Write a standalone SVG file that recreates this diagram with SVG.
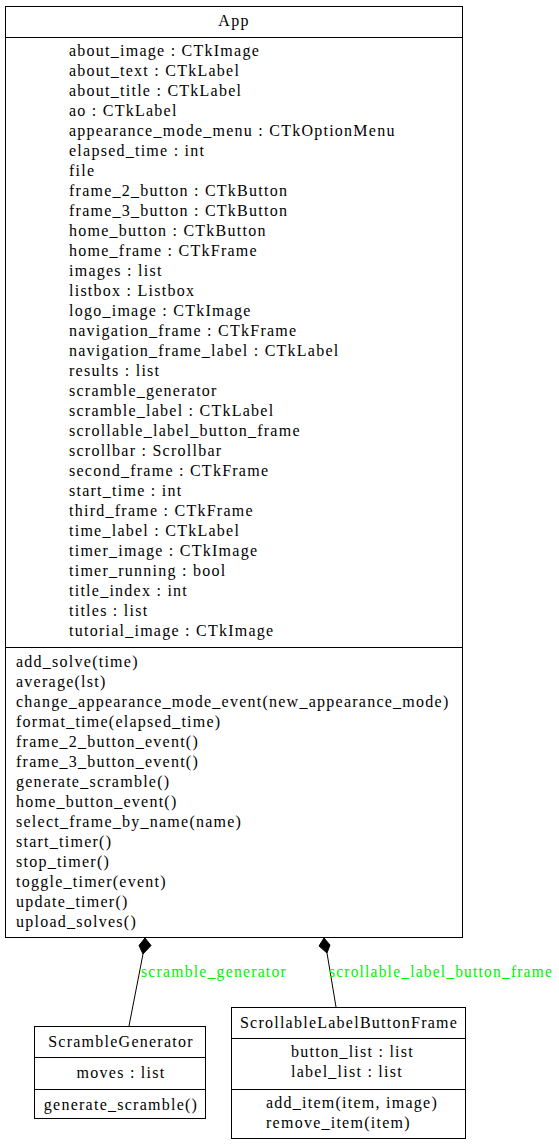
<svg xmlns="http://www.w3.org/2000/svg" width="559" height="1145" viewBox="0 0 559 1145">
<style>
  .box { fill: #ffffff; stroke: #000000; stroke-width: 1; }
  .sep { stroke: #000000; stroke-width: 1; }
  text { font-family: "Liberation Serif", "Times New Roman", serif; font-size: 16px; letter-spacing: 1.25px; fill: #000000; }
  .c { text-anchor: middle; }
  .edge { stroke: #000000; stroke-width: 1; fill: none; }
  .elabel { fill: #00f000; }
</style>
<rect width="559" height="1145" fill="#ffffff"/>

<g id="App">
  <rect class="box" x="5.5" y="6.5" width="457" height="931"/>
  <line class="sep" x1="5.5" y1="37.5" x2="462.5" y2="37.5"/>
  <line class="sep" x1="5.5" y1="647.5" x2="462.5" y2="647.5"/>
  <text class="c" x="234" y="26">App</text>
  <g>
    <text x="69" y="56">about_image : CTkImage</text>
    <text x="69" y="76">about_text : CTkLabel</text>
    <text x="69" y="96">about_title : CTkLabel</text>
    <text x="69" y="116">ao : CTkLabel</text>
    <text x="69" y="136">appearance_mode_menu : CTkOptionMenu</text>
    <text x="69" y="156">elapsed_time : int</text>
    <text x="69" y="176">file</text>
    <text x="69" y="196">frame_2_button : CTkButton</text>
    <text x="69" y="216">frame_3_button : CTkButton</text>
    <text x="69" y="236">home_button : CTkButton</text>
    <text x="69" y="256">home_frame : CTkFrame</text>
    <text x="69" y="276">images : list</text>
    <text x="69" y="296">listbox : Listbox</text>
    <text x="69" y="316">logo_image : CTkImage</text>
    <text x="69" y="336">navigation_frame : CTkFrame</text>
    <text x="69" y="356">navigation_frame_label : CTkLabel</text>
    <text x="69" y="376">results : list</text>
    <text x="69" y="396">scramble_generator</text>
    <text x="69" y="416">scramble_label : CTkLabel</text>
    <text x="69" y="436">scrollable_label_button_frame</text>
    <text x="69" y="456">scrollbar : Scrollbar</text>
    <text x="69" y="476">second_frame : CTkFrame</text>
    <text x="69" y="496">start_time : int</text>
    <text x="69" y="516">third_frame : CTkFrame</text>
    <text x="69" y="536">time_label : CTkLabel</text>
    <text x="69" y="556">timer_image : CTkImage</text>
    <text x="69" y="576">timer_running : bool</text>
    <text x="69" y="596">title_index : int</text>
    <text x="69" y="616">titles : list</text>
    <text x="69" y="636">tutorial_image : CTkImage</text>
  </g>
  <g>
    <text x="16" y="667">add_solve(time)</text>
    <text x="16" y="687">average(lst)</text>
    <text x="16" y="707">change_appearance_mode_event(new_appearance_mode)</text>
    <text x="16" y="727">format_time(elapsed_time)</text>
    <text x="16" y="747">frame_2_button_event()</text>
    <text x="16" y="767">frame_3_button_event()</text>
    <text x="16" y="787">generate_scramble()</text>
    <text x="16" y="807">home_button_event()</text>
    <text x="16" y="827">select_frame_by_name(name)</text>
    <text x="16" y="847">start_timer()</text>
    <text x="16" y="867">stop_timer()</text>
    <text x="16" y="887">toggle_timer(event)</text>
    <text x="16" y="907">update_timer()</text>
    <text x="16" y="927">upload_solves()</text>
  </g>
</g>

<g id="ScrambleGenerator">
  <rect class="box" x="34.5" y="1026.5" width="171" height="92"/>
  <line class="sep" x1="34.5" y1="1057.5" x2="205.5" y2="1057.5"/>
  <line class="sep" x1="34.5" y1="1089.5" x2="205.5" y2="1089.5"/>
  <text class="c" x="121" y="1047">ScrambleGenerator</text>
  <text class="c" x="121" y="1078">moves : list</text>
  <text class="c" x="121" y="1110">generate_scramble()</text>
</g>

<g id="ScrollableLabelButtonFrame">
  <rect class="box" x="231.5" y="1007.5" width="234" height="131"/>
  <line class="sep" x1="231.5" y1="1038.5" x2="465.5" y2="1038.5"/>
  <line class="sep" x1="231.5" y1="1089.5" x2="465.5" y2="1089.5"/>
  <text class="c" x="349" y="1028">ScrollableLabelButtonFrame</text>
  <text x="291" y="1057">button_list : list</text>
  <text x="291" y="1077">label_list : list</text>
  <text x="266" y="1108">add_item(item, image)</text>
  <text x="266" y="1128">remove_item(item)</text>
</g>

<g id="connectors">
  <path class="edge" d="M129,1026 L143,954" />
  <path d="M145,938 L151,945.5 L143,954 L139,945.5 Z" fill="#000000" stroke="#000000" stroke-width="1"/>
  <text class="elabel" x="141" y="977" textLength="146" lengthAdjust="spacingAndGlyphs">scramble_generator</text>

  <path class="edge" d="M336,1007 L327,953" />
  <path d="M324,938 L330,945 L327,953 L319,946 Z" fill="#000000" stroke="#000000" stroke-width="1"/>
  <text class="elabel" x="329" y="977" textLength="224" lengthAdjust="spacingAndGlyphs">scrollable_label_button_frame</text>
</g>
</svg>
